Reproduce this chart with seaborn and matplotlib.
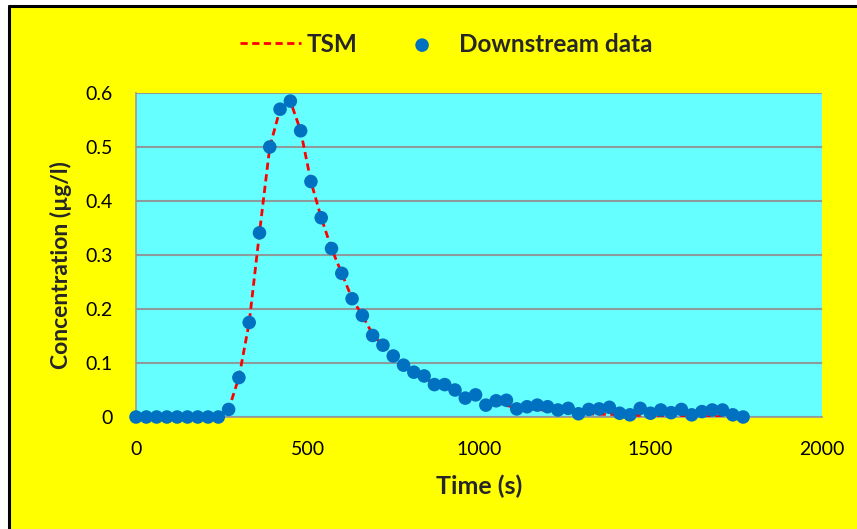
import numpy as np
import pandas as pd
import matplotlib
matplotlib.use("Agg")
import matplotlib.pyplot as plt
from matplotlib.lines import Line2D
from matplotlib.patches import Rectangle
from matplotlib.ticker import FuncFormatter
import seaborn as sns

# Sampling times (s), every 30 s
time_s = list(range(0, 1800, 30))

# Measured downstream concentrations (ug/l)
downstream = [
    0.0, 0.0, 0.0, 0.0, 0.0, 0.0, 0.0, 0.0, 0.0,
    0.014, 0.073, 0.175, 0.341, 0.500, 0.570, 0.585, 0.530, 0.436, 0.369,
    0.312, 0.266, 0.219, 0.188, 0.151, 0.133, 0.113, 0.096, 0.083, 0.076,
    0.060, 0.060, 0.050, 0.035, 0.041, 0.022, 0.030, 0.031, 0.015, 0.019,
    0.022, 0.019, 0.013, 0.016, 0.006, 0.014, 0.015, 0.018, 0.007, 0.004,
    0.016, 0.007, 0.013, 0.008, 0.014, 0.004, 0.010, 0.013, 0.013, 0.004,
    0.0,
]

# TSM model curve at the same times
tsm = [
    0.0, 0.0, 0.0, 0.0, 0.0, 0.0, 0.0, 0.0, 0.0,
    0.014, 0.073, 0.175, 0.341, 0.500, 0.570, 0.585, 0.530, 0.436, 0.369,
    0.312, 0.266, 0.219, 0.188, 0.153, 0.133, 0.114, 0.098, 0.084, 0.072,
    0.062, 0.053, 0.046, 0.039, 0.034, 0.029, 0.025, 0.021, 0.018, 0.016,
    0.014, 0.012, 0.010, 0.009, 0.007, 0.006, 0.005, 0.005, 0.004, 0.003,
    0.003, 0.003, 0.002, 0.002, 0.002, 0.001, 0.001, 0.001, 0.001, 0.001,
    0.001,
]

x_ticks = [0, 500, 1000, 1500, 2000]
y_ticks = [0, 0.1, 0.2, 0.3, 0.4, 0.5, 0.6]

df = pd.DataFrame({"Time": time_s, "Downstream": downstream, "TSM": tsm})

sns.set_style("white")
plt.rcParams["font.family"] = ["Lato", "DejaVu Sans"]

W, H = 857, 529
fig = plt.figure(figsize=(W / 100, H / 100), dpi=100, facecolor="white")

# Yellow chart area with black edges on the left and top
fig.add_artist(Rectangle((9 / W, 0), 1 - 9 / W, 1 - 6 / H, transform=fig.transFigure,
                         facecolor="#FFFF00", edgecolor="none", zorder=0))
fig.add_artist(Line2D([9 / W, 9 / W], [0, 1 - 6 / H], transform=fig.transFigure,
                      color="black", lw=2.2, zorder=1))
fig.add_artist(Line2D([9 / W, 1], [1 - 6 / H, 1 - 6 / H], transform=fig.transFigure,
                      color="black", lw=2.2, zorder=1))

ax = fig.add_axes([136 / W, 1 - 417 / H, (822 - 136) / W, (417 - 93) / H])
ax.set_facecolor("#66FFFF")

sns.lineplot(data=df, x="Time", y="TSM", ax=ax, color="#FF0000", lw=2.0,
             dashes=False, linestyle=(0, (2.6, 1.6)), label="TSM", zorder=3)
sns.scatterplot(data=df, x="Time", y="Downstream", ax=ax, color="#0070C0", s=95,
                edgecolor="none", label="Downstream data", zorder=4, clip_on=False)

ax.set_xlim(0, 2000)
ax.set_ylim(0, 0.6)
ax.set_xticks(x_ticks)
ax.set_yticks(y_ticks)
ax.yaxis.set_major_formatter(FuncFormatter(lambda v, p: "0" if v == 0 else f"{v:.1f}"))

ax.grid(axis="y", color="#8C9C9C", lw=1.5, zorder=1)
ax.grid(axis="x", visible=False)
ax.set_axisbelow(True)

for side in ("top", "right"):
    ax.spines[side].set_visible(False)
for side in ("left", "bottom"):
    ax.spines[side].set_color("#999999")
    ax.spines[side].set_linewidth(1.2)

ax.tick_params(axis="both", which="major", direction="out", length=5, width=1,
               color="#999999", labelsize=14, labelcolor="black")
ax.tick_params(axis="x", pad=12)
ax.tick_params(axis="y", pad=12)

ax.set_xlabel("Time (s)", fontsize=18, fontweight="bold", labelpad=12)
ax.set_ylabel("Concentration (\u00b5g/l)", fontsize=16.5, fontweight="bold", labelpad=12)
ax.yaxis.set_label_coords(-0.094, 0.47)

leg = ax.legend(loc="center", bbox_to_anchor=(446 / W, 1 - 44 / H), bbox_transform=fig.transFigure,
                ncol=2, frameon=False, handlelength=2.5, columnspacing=1.4, handletextpad=0.25,
                prop={"family": "Lato", "weight": "bold", "size": 17.5})

fig.savefig("out.png", dpi=100, facecolor=fig.get_facecolor())
